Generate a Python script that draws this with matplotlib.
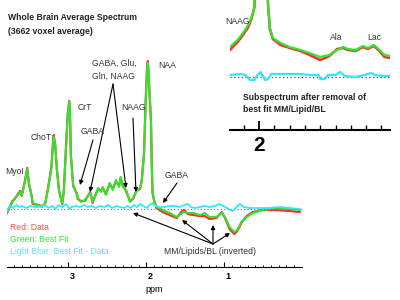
import matplotlib.pyplot as plt
from matplotlib.ticker import FixedLocator
import matplotlib.transforms as mtransforms

plt.rcParams['font.family'] = ['Liberation Sans', 'DejaVu Sans']

# whole brain spectrum (ppm, arbitrary units)
ppm = [3.79, 3.72, 3.69, 3.65, 3.62, 3.60, 3.56, 3.53, 3.51, 3.47,
       3.46, 3.39, 3.34, 3.30, 3.26, 3.22, 3.20, 3.19, 3.17, 3.15,
       3.12, 3.08, 3.06, 3.03, 3.01, 2.99, 2.98, 2.97, 2.94, 2.89,
       2.88, 2.84, 2.79, 2.72, 2.69, 2.66, 2.62, 2.58, 2.56, 2.52,
       2.47, 2.43, 2.39, 2.35, 2.33, 2.30, 2.26, 2.21, 2.17, 2.13,
       2.08, 2.06, 2.03, 2.01, 1.99, 1.98, 1.97, 1.94, 1.93, 1.92,
       1.90, 1.87, 1.79, 1.70, 1.61, 1.54, 1.51, 1.47, 1.40, 1.31,
       1.25, 1.19, 1.10, 1.03, 0.99, 0.93, 0.87, 0.83, 0.78, 0.71,
       0.63, 0.51, 0.33, 0.16, 0.03]
fit = [-3, 7, 11, 14, 17, 14, 27, 40, 27, 11,
       6, 4, 2, 6, 21, 41, 64, 72, 64, 41,
       17, 6, 17, 64, 94, 107, 94, 54, 24, 14,
       11, 7, 9, 16, 7, 12, 21, 17, 22, 14,
       26, 19, 29, 22, 32, 22, 19, 7, 11, 17,
       21, 27, 54, 104, 141, 146, 134, 87, 44, 17,
       9, 2, -1, -4, -8, -4, -3, -4, -4, -6,
       -4, -8, -8, -4, -8, -18, -23, -21, -13, -8,
       -4, -1, 1, 0, -1]
data = [-4, 8, 10, 15, 18, 13, 28, 41, 26, 12,
        5, 4, 3, 5, 22, 42, 65, 74, 63, 40,
        18, 5, 18, 65, 95, 108, 93, 55, 23, 15,
        10, 8, 8, 17, 6, 13, 20, 18, 21, 15,
        25, 20, 28, 23, 31, 23, 18, 8, 10, 18,
        20, 28, 55, 105, 142, 148, 133, 88, 43, 16,
        8, 1, -3, -6, -9, -2, -1, -5, -6, -7,
        -7, -10, -9, -3, -9, -20, -25, -22, -14, -7,
        -3, -1, -1, -2, -3]

# best fit - data, drawn on the baseline
res_ppm = [3.79, 3.75, 3.71, 3.67, 3.63, 3.60, 3.54, 3.49, 3.44, 3.39,
           3.34, 3.30, 3.26, 3.21, 3.17, 3.13, 3.08, 3.03, 2.99, 2.96,
           2.90, 2.85, 2.80, 2.75, 2.70, 2.65, 2.60, 2.54, 2.49, 2.44,
           2.39, 2.34, 2.29, 2.24, 2.20, 2.16, 2.12, 2.08, 2.04, 1.99,
           1.96, 1.92, 1.88, 1.83, 1.76, 1.70, 1.63, 1.57, 1.51, 1.47,
           1.43, 1.38, 1.31, 1.25, 1.19, 1.12, 1.06, 0.99, 0.94, 0.89,
           0.84, 0.80, 0.75, 0.67, 0.54, 0.42, 0.29, 0.16, 0.03]
res = [-1, 3, 1, 4, 2, 3, 1, 3, 2, 2,
       3, 4, 1, 3, 0, 4, 2, 5, 0, 2,
       3, 2, 4, 2, 3, 1, 3, 2, 4, 1,
       3, 2, 1, 3, 1, 4, 2, 5, 3, 1,
       4, 6, 3, 2, 2, 3, 3, 2, 4, 5,
       2, 1, 2, 3, 2, 3, 5, 2, 0, -2,
       2, 5, 2, 1, 1, 1, 2, 1, 0]

# subspectrum after removal of best fit MM/Lipid/BL
sub_ppm = [2.19, 2.14, 2.10, 2.07, 2.05, 2.03, 2.00, 1.94, 1.93, 1.91,
           1.86, 1.80, 1.73, 1.67, 1.60, 1.54, 1.49, 1.45, 1.42, 1.37,
           1.32, 1.29, 1.25, 1.22, 1.18, 1.14]
sub_fit = [30, 37, 45, 52, 59, 70, 200, 70, 50, 39,
           34, 30, 27, 24, 20, 22, 27, 30, 28, 27,
           31, 29, 32, 28, 22, 21]
sub_data = [27, 35, 43, 50, 58, 70, 200, 70, 48, 38,
            32, 29, 26, 22, 17, 21, 28, 29, 27, 26,
            30, 28, 31, 27, 20, 19]
sub_res_ppm = [2.19, 2.12, 2.09, 2.06, 2.03, 2.01, 1.99, 1.98, 1.96, 1.94,
               1.92, 1.86, 1.80, 1.73, 1.67, 1.61, 1.60, 1.57, 1.55, 1.50,
               1.47, 1.44, 1.37, 1.31, 1.27, 1.24, 1.18, 1.14]
sub_res = [2, 3, 2, -3, -3, 2, 5, 2, -3, -2,
           3, 3, 3, 3, 2, 2, -2, -2, 2, 2,
           5, 1, 0, 2, 4, 2, 1, 1]

RED = '#ff2b2b'
GREEN = '#2de62d'
CYAN = '#33e6ff'


def fpx(x, y):
    # figure pixels, measured from the top
    return (x, 300 - y)


fig = plt.figure(figsize=(4, 3), dpi=100)

# --- main spectrum ---
ax = fig.add_axes([7 / 400, 33 / 300, 295 / 400, 267 / 300])
ax.patch.set_alpha(0)
ax.plot(ppm, data, color=RED, lw=1.6)
ax.plot(ppm, fit, color=GREEN, lw=1.5)
ax.axhline(0, color='#777777', lw=0.8, ls=(0, (1, 2)))
ax.plot(res_ppm, res, color=CYAN, lw=1.3)
ax.set_xlim(3.79, 0.0)
ax.set_ylim(-58, 209)
for s in ['left', 'right', 'top']:
    ax.spines[s].set_visible(False)
ax.spines['bottom'].set_linewidth(0.8)
ax.set_yticks([])
ax.xaxis.set_major_locator(FixedLocator([3, 2, 1]))
ax.xaxis.set_minor_locator(FixedLocator([x / 10 for x in range(1, 38)]))
ax.set_xticklabels(['3', '2', '1'], fontsize=6.5, fontweight='bold')
ax.tick_params(axis='x', which='major', direction='in', length=3.4, width=0.8, pad=3.5)
ax.tick_params(axis='x', which='minor', direction='in', length=1.8, width=0.7)
shift = mtransforms.ScaledTranslation(3 / 72, 0, fig.dpi_scale_trans)
for lab in ax.get_xticklabels():
    lab.set_transform(lab.get_transform() + shift)
ax.set_xlabel('ppm', fontsize=6.5, labelpad=3)

# --- inset subspectrum ---
ax2 = fig.add_axes([230 / 400, 170 / 300, 160 / 400, 130 / 300])
ax2.patch.set_alpha(0)
ax2.plot(sub_ppm, sub_data, color=RED, lw=1.8)
ax2.plot(sub_ppm, sub_fit, color=GREEN, lw=1.6)
ax2.axhline(0, color='#555555', lw=0.9, ls=(0, (1, 2)))
ax2.plot(sub_res_ppm, sub_res, color=CYAN, lw=1.6)
ax2.set_xlim(2.19, 1.144)
ax2.set_ylim(-53, 77)
for s in ['left', 'right', 'top']:
    ax2.spines[s].set_visible(False)
ax2.spines['bottom'].set_linewidth(1.5)
ax2.set_yticks([])
ax2.xaxis.set_major_locator(FixedLocator([2]))
ax2.xaxis.set_minor_locator(FixedLocator([x / 10 for x in range(12, 22)]))
ax2.set_xticklabels(['2'], fontsize=15, fontweight='bold')
ax2.tick_params(axis='x', which='major', direction='in', length=6.5, width=1.3, pad=4)
ax2.tick_params(axis='x', which='minor', direction='in', length=3.5, width=1.0)

# --- texts ---
def label(x, y, s, size=6.2, color='#333333', weight='normal'):
    fig.text(x / 400, 1 - y / 300, s, ha='left', va='center', fontsize=size,
             color=color, fontweight=weight, linespacing=1.5)

label(8, 17, 'Whole Brain Average Spectrum', size=6.2, color='#222222', weight='bold')
label(8, 31, '(3662 voxel average)', size=6.2, color='#222222', weight='bold')
label(158, 65, 'NAA')
label(92, 70, 'GABA, Glu,\nGln, NAAG')
label(78, 108, 'CrT')
label(121, 108, 'NAAG')
label(81, 131, 'GABA')
label(31, 138, 'ChoT')
label(5, 172, 'MyoI')
label(165, 175, 'GABA')
label(164, 252, 'MM/Lipids/BL (inverted)')
label(10, 227, 'Red: Data', color='#ff4d4d')
label(10, 240, 'Green: Best Fit', color='#33e633')
label(10, 252, 'Light Blue: Best Fit - Data', color='#66d9ff')
label(225, 22, 'NAAG')
label(330, 38, 'Ala')
label(367, 38, 'Lac')
label(243, 98, 'Subspectrum after removal of', size=6.2, color='#222222', weight='bold')
label(243, 110, 'best fit MM/Lipid/BL', size=6.2, color='#222222', weight='bold')

arrows = [
    ((93, 140), (80, 185)),
    ((113, 84), (90, 192)),
    ((113, 84), (126, 188)),
    ((133, 118), (136, 192)),
    ((177, 183), (163, 203)),
    ((213, 244), (133, 213)),
    ((213, 244), (182, 220)),
    ((213, 244), (213, 225)),
    ((213, 244), (230, 233)),
]
for tail, head in arrows:
    fig.add_artist(plt.Annotation('', xy=fpx(*head), xytext=fpx(*tail),
                                  xycoords='figure pixels', textcoords='figure pixels',
                                  arrowprops=dict(arrowstyle='-|>', color='black', lw=0.8,
                                                  mutation_scale=6, shrinkA=0, shrinkB=0)))

fig.savefig('out.png', dpi=100)
